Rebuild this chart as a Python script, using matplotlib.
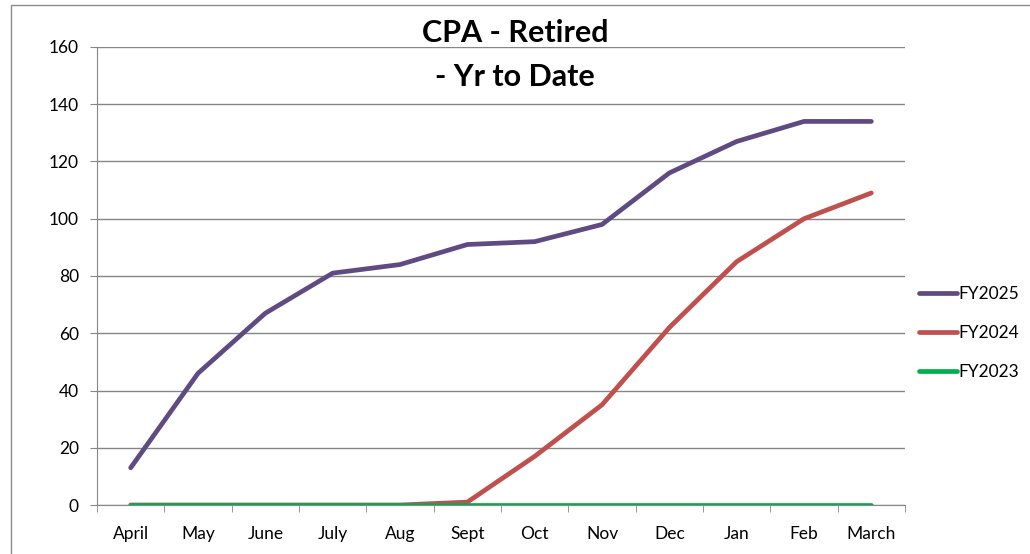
import matplotlib.pyplot as plt
from matplotlib.patches import Rectangle
import numpy as np

months = ['April', 'May', 'June', 'July', 'Aug', 'Sept', 'Oct', 'Nov',
          'Dec', 'Jan', 'Feb', 'March']
fy2025 = [13, 46, 67, 81, 84, 91, 92, 98, 116, 127, 134, 134]
fy2024 = [0, 0, 0, 0, 0, 1, 17, 35, 62, 85, 100, 109]
fy2023 = [0, 0, 0, 0, 0, 0, 0, 0, 0, 0, 0, 0]
y_ticks = [0, 20, 40, 60, 80, 100, 120, 140, 160]

plt.rcParams['font.family'] = ['Lato', 'DejaVu Sans']

fig = plt.figure(figsize=(10.3, 5.54), dpi=100)
ax = fig.add_axes([97 / 1030, 49 / 554, 808 / 1030, 458 / 554])

# chart frame like the spreadsheet's outer border
fig.patches.append(Rectangle((11 / 1030, -0.1), 1.2, (549 / 554) + 0.1,
                             transform=fig.transFigure, fill=False,
                             edgecolor='#8c8c8c', linewidth=1.0))

x = np.arange(len(months))
ax.plot(x, fy2025, color='#5f4b82', lw=3.4, label='FY2025',
        solid_capstyle='round', zorder=4)
ax.plot(x, fy2024, color='#c0504d', lw=3.4, label='FY2024',
        solid_capstyle='round', zorder=3)
ax.plot(x, fy2023, color='#00b050', lw=3.4, label='FY2023',
        solid_capstyle='round', zorder=5)

ax.set_xlim(-0.5, len(months) - 0.5)
ax.set_ylim(0, 160)
ax.set_yticks(y_ticks)
ax.set_xticks(x)
ax.set_xticklabels(months)
ax.set_xticks(np.arange(-0.5, len(months)), minor=True)
ax.tick_params(axis='x', which='major', length=0, pad=15, labelsize=12.5)
ax.tick_params(axis='x', which='minor', length=5, color='#868686')
ax.tick_params(axis='y', length=5, color='#868686', pad=8, labelsize=12.5)

ax.grid(axis='y', color='#868686', lw=1.0)
ax.set_axisbelow(True)
for side in ['top', 'right']:
    ax.spines[side].set_visible(False)
for side in ['left', 'bottom']:
    ax.spines[side].set_color('#868686')

fig.text(0.5, 1 - 33 / 554, 'CPA - Retired', ha='center', va='center',
         fontsize=22, fontweight='bold')
fig.text(0.5, 1 - 77 / 554, '- Yr to Date', ha='center', va='center',
         fontsize=22, fontweight='bold')

ax.legend(loc='center left', bbox_to_anchor=(1.0, 0.3755), frameon=False,
          fontsize=12.5, handlelength=2.2, handletextpad=0.05,
          labelspacing=1.3, borderpad=0.3, borderaxespad=0.5)

fig.savefig('out.png', dpi=100)
